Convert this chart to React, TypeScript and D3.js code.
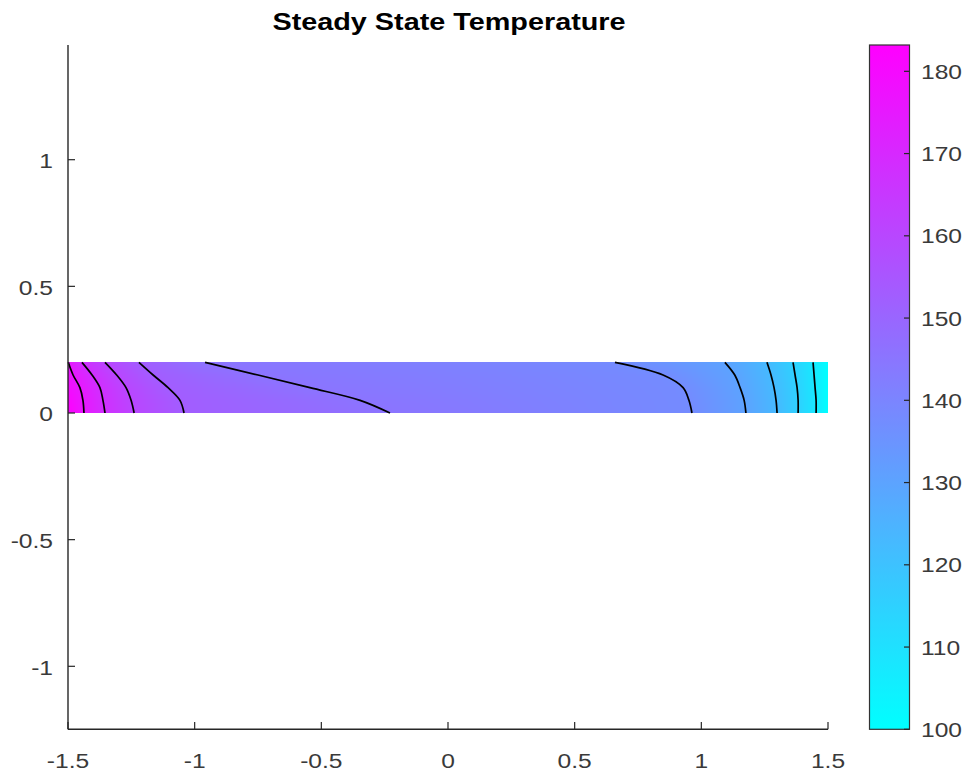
import React, { useMemo } from "react";
import * as d3 from "d3";

// ---- data ----
const TITLE = "Steady State Temperature";
const X_TICKS = [-1.5, -1, -0.5, 0, 0.5, 1, 1.5];
const Y_TICKS = [-1, -0.5, 0, 0.5, 1];
const CB_TICKS = [100, 110, 120, 130, 140, 150, 160, 170, 180];
const T_MIN = 100;
const T_MAX = 183.2;

// contour levels (descending, left -> right)
const LEVELS = [175.64, 168.07, 160.51, 152.95, 145.38, 137.82, 130.25, 122.69, 115.13, 107.56];
// y positions of the sampled rows across the plate
const ROW_Y = [0, 0.05, 0.1, 0.15, 0.2];
// temperatures at the plate's left and right edges for each row
const LEFT_EDGE_T = [183.2, 181.5, 179.8, 177.8, 175.64];
const RIGHT_EDGE_T = [100, 100, 100, 100, 100];
// x where each contour level crosses each row
const CROSS_Y000 = [-1.437, -1.354, -1.239, -1.042, -0.229, 0.963, 1.176, 1.299, 1.382, 1.453];
const CROSS_Y005 = [-1.441, -1.362, -1.251, -1.058, -0.347, 0.951, 1.169, 1.295, 1.382, 1.453];
const CROSS_Y010 = [-1.453, -1.374, -1.271, -1.105, -0.545, 0.928, 1.153, 1.287, 1.378, 1.449];
const CROSS_Y015 = [-1.48, -1.405, -1.308, -1.164, -0.75, 0.849, 1.132, 1.275, 1.37, 1.445];
const CROSS_Y020 = [-1.499, -1.445, -1.354, -1.22, -0.959, 0.659, 1.093, 1.259, 1.362, 1.441];
const CROSS_ROWS = [CROSS_Y000, CROSS_Y005, CROSS_Y010, CROSS_Y015, CROSS_Y020];
const PLATE_X = [-1.5, 1.5];
const PLATE_Y = [0, 0.2];

const W = 964;
const H = 774;
const SX = 1.2; // horizontal text stretch seen in the reference

const coolColor = (t: number) => {
  const u = Math.max(0, Math.min(1, t));
  return d3.rgb(255 * u, 255 * (1 - u), 255).formatHex();
};

function rowTemp(k: number, x: number) {
  const xs = [PLATE_X[0], ...CROSS_ROWS[k], PLATE_X[1]];
  const vs = [LEFT_EDGE_T[k], ...LEVELS, RIGHT_EDGE_T[k]];
  const s = d3.scaleLinear().domain(xs).range(vs).clamp(true);
  return s(x);
}

function fieldTemp(x: number, y: number) {
  let k = 0;
  while (k < ROW_Y.length - 2 && y > ROW_Y[k + 1]) k++;
  const f = (y - ROW_Y[k]) / (ROW_Y[k + 1] - ROW_Y[k]);
  const a = rowTemp(k, x);
  const b = rowTemp(k + 1, x);
  return a + (b - a) * Math.max(0, Math.min(1, f));
}

const Txt = ({ x, y, anchor, size, weight, children, fill }: any) => (
  <text
    transform={`translate(${x},${y}) scale(${SX},1)`}
    textAnchor={anchor}
    fontSize={size}
    fontWeight={weight || "normal"}
    fontFamily="'Liberation Sans', Arial, Helvetica, sans-serif"
    fill={fill || "#3a3a3a"}
  >
    {children}
  </text>
);

export default function App() {
  const x = d3.scaleLinear().domain([-1.5, 1.5]).range([68, 828]);
  const y = d3.scaleLinear().domain([-1.2487, 1.4528]).range([729.3, 45]);
  const cb = d3.scaleLinear().domain([T_MIN, T_MAX]).range([729.3, 45]);
  const tNorm = d3.scaleLinear().domain([T_MIN, T_MAX]).range([0, 1]);

  const cells = useMemo(() => {
    const out: any[] = [];
    const x0 = x(PLATE_X[0]);
    const x1 = x(PLATE_X[1]);
    const yTop = y(PLATE_Y[1]);
    const yBot = y(PLATE_Y[0]);
    const nc = 380;
    const nr = 26;
    const cw = (x1 - x0) / nc;
    const ch = (yBot - yTop) / nr;
    for (let i = 0; i < nc; i++) {
      for (let j = 0; j < nr; j++) {
        const px = x0 + (i + 0.5) * cw;
        const py = yTop + (j + 0.5) * ch;
        const T = fieldTemp(x.invert(px), y.invert(py));
        out.push(
          <rect
            key={`${i}-${j}`}
            x={x0 + i * cw}
            y={yTop + j * ch}
            width={cw + 0.4}
            height={ch + 0.4}
            fill={coolColor(tNorm(T))}
          />
        );
      }
    }
    return out;
  }, []);

  const line = d3
    .line<[number, number]>()
    .x((d) => x(d[0]))
    .y((d) => y(d[1]))
    .curve(d3.curveCatmullRom.alpha(0.5));

  const contourPaths = LEVELS.map((lv, i) => {
    const pts: [number, number][] = ROW_Y.map((ry, k) => [CROSS_ROWS[k][i], ry]);
    return <path key={lv} d={line(pts) || ""} fill="none" stroke="#000" strokeWidth={1.7} strokeLinejoin="round" />;
  });

  const gradStops = d3.range(0, 1.0001, 0.1);
  const axisColor = "#262626";

  return (
    <svg
      width={W}
      height={H}
      style={{ position: "absolute", left: 0, top: 0, background: "#fff" }}
    >
      <defs>
        <linearGradient id="cbgrad" x1="0" y1="1" x2="0" y2="0">
          {gradStops.map((t) => (
            <stop key={t} offset={t} stopColor={coolColor(t)} />
          ))}
        </linearGradient>
      </defs>
      <rect x={0} y={0} width={W} height={H} fill="#fff" />

      {/* title */}
      <Txt x={449} y={30} anchor="middle" size={24} weight="bold" fill="#000">
        {TITLE}
      </Txt>

      {/* field */}
      <g shapeRendering="crispEdges">{cells}</g>
      <g>{contourPaths}</g>

      {/* axes */}
      <line x1={68} x2={828} y1={729.3} y2={729.3} stroke={axisColor} strokeWidth={1.4} />
      <line x1={68} x2={68} y1={45} y2={729.3} stroke={axisColor} strokeWidth={1.4} />
      {X_TICKS.map((t) => (
        <g key={`xt${t}`}>
          <line x1={x(t)} x2={x(t)} y1={729.3} y2={722} stroke={axisColor} strokeWidth={1.2} />
          <Txt x={x(t)} y={768} anchor="middle" size={20.5}>
            {String(t)}
          </Txt>
        </g>
      ))}
      {Y_TICKS.map((t) => (
        <g key={`yt${t}`}>
          <line x1={68} x2={75} y1={y(t)} y2={y(t)} stroke={axisColor} strokeWidth={1.2} />
          <Txt x={53} y={y(t) + 8.5} anchor="end" size={20.5}>
            {String(t)}
          </Txt>
        </g>
      ))}

      {/* colorbar */}
      <rect x={869.5} y={45} width={40} height={684.3} fill="url(#cbgrad)" stroke="#333" strokeWidth={1.2} />
      {CB_TICKS.map((t) => (
        <g key={`cb${t}`}>
          <line x1={909.5} x2={904} y1={cb(t)} y2={cb(t)} stroke={axisColor} strokeWidth={1.2} />
          <Txt x={921} y={cb(t) + 7.5} anchor="start" size={20.5}>
            {String(t)}
          </Txt>
        </g>
      ))}
    </svg>
  );
}
